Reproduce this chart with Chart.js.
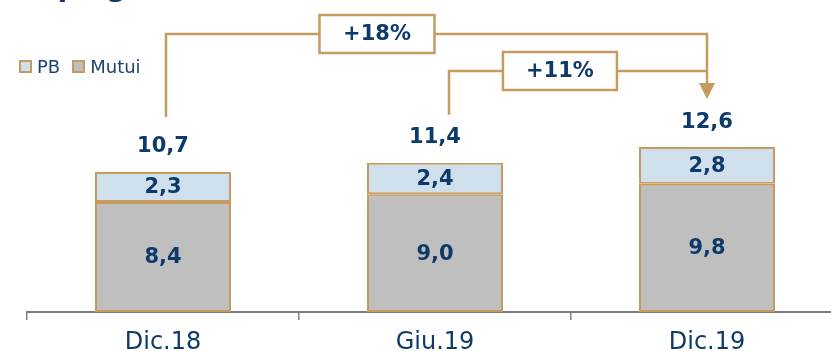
<!DOCTYPE html>
<html>
<head>
<meta charset="utf-8">
<script src="https://cdn.jsdelivr.net/npm/chart.js@4"></script>
<style>
  html, body { margin: 0; padding: 0; background: #fff; overflow: hidden; }
  #wrap { position: relative; width: 831px; height: 351px; overflow: hidden; }
  #chart_box { position: absolute; left: 0; top: 0; width: 843px; height: 370px; }
  #title {
    position: absolute; left: 18px; top: -30px; white-space: nowrap;
    font: bold 28px "DejaVu Sans", sans-serif; color: #0E3A6B;
  }
  #legend {
    position: absolute; left: 19px; top: 56px; display: flex; align-items: center;
    font: 18px "DejaVu Sans", sans-serif; color: #1A4273;
  }
  #legend .item { display: flex; align-items: center; margin-right: 12px; }
  #legend .box { width: 9px; height: 9px; border: 2px solid #C59B5F; margin-right: 5px; }
</style>
</head>
<body>
<div id="wrap">
  <div id="title">Impieghi (€ mld)</div>
  <div id="chart_box"><canvas id="impieghi"></canvas></div>
  <div id="legend"></div>
</div>
<script>
var periods = ['Dic.18', 'Giu.19', 'Dic.19'];
var mutui = [8.4, 9.0, 9.8];
var pb = [2.3, 2.4, 2.8];

var gold = '#C59B5F';
var navy = '#0E3A6B';
var value_font = 'bold 21px "DejaVu Sans", sans-serif';

var totals = periods.map((p, i) => Math.round((mutui[i] + pb[i]) * 10) / 10);

function fmt(v)
{
    return v.toFixed(1).replace('.', ',');
}

function growth(from, to)
{
    return '+' + Math.round((totals[to] / totals[from] - 1) * 100) + '%';
}

// segment values in the middle of each block, totals above the stack
var value_labels = {
    id: 'value_labels',
    afterDatasetsDraw(chart)
    {
        var ctx = chart.ctx;
        ctx.save();
        ctx.font = value_font;
        ctx.fillStyle = navy;
        ctx.textAlign = 'center';
        ctx.textBaseline = 'middle';
        chart.data.datasets.forEach((ds, d) => {
            chart.getDatasetMeta(d).data.forEach((bar, i) => {
                ctx.fillText(fmt(ds.data[i]), bar.x, (bar.y + bar.base) / 2 + 1);
            });
        });
        var top = chart.getDatasetMeta(chart.data.datasets.length - 1).data;
        top.forEach((bar, i) => {
            ctx.fillText(fmt(totals[i]), bar.x, bar.y - 25);
        });
        ctx.restore();
    }
};

function growth_box(ctx, cx, cy, w, h, text)
{
    ctx.fillStyle = '#fff';
    ctx.fillRect(cx - w / 2, cy - h / 2, w, h);
    ctx.strokeRect(cx - w / 2, cy - h / 2, w, h);
    ctx.fillStyle = navy;
    ctx.fillText(text, cx, cy + 1);
}

// bracket connectors with the growth rates
var growth_arrows = {
    id: 'growth_arrows',
    afterDraw(chart)
    {
        var ctx = chart.ctx;
        var x = chart.scales.x;
        var y = chart.scales.y;
        var x0 = x.getPixelForValue(0) + 3;
        var x1 = x.getPixelForValue(1) + 14;
        var x2 = x.getPixelForValue(2);
        var y_long = 34;
        var y_short = 71;
        var tip = y.getPixelForValue(totals[2]) - 48;

        ctx.save();
        ctx.strokeStyle = gold;
        ctx.lineWidth = 2.5;
        ctx.lineJoin = 'miter';

        ctx.beginPath();
        ctx.moveTo(x0, y.getPixelForValue(totals[0]) - 55);
        ctx.lineTo(x0, y_long);
        ctx.lineTo(x2, y_long);
        ctx.lineTo(x2, tip - 14);
        ctx.stroke();

        ctx.beginPath();
        ctx.moveTo(x1, y.getPixelForValue(totals[1]) - 48);
        ctx.lineTo(x1, y_short);
        ctx.lineTo(x2, y_short);
        ctx.stroke();

        ctx.fillStyle = gold;
        ctx.beginPath();
        ctx.moveTo(x2 - 8, tip - 16);
        ctx.lineTo(x2 + 8, tip - 16);
        ctx.lineTo(x2, tip);
        ctx.closePath();
        ctx.fill();

        ctx.font = value_font;
        ctx.textAlign = 'center';
        ctx.textBaseline = 'middle';
        growth_box(ctx, x0 + (x2 - x0) * 0.39, y_long, 115, 38, growth(0, 2));
        growth_box(ctx, x1 + (x2 - x1) * 0.43, y_short, 114, 38, growth(1, 2));
        ctx.restore();
    }
};

var chart_config = {
    type: 'bar',
    data: {
        labels: periods,
        datasets: [
            { label: 'Mutui', data: mutui, backgroundColor: '#BFBFBF' },
            { label: 'PB', data: pb, backgroundColor: '#CFE0EC' }
        ]
    },
    options: {
        responsive: true,
        maintainAspectRatio: false,
        animation: false,
        layout: { padding: { left: 27, top: 24, right: 0, bottom: 0 } },
        datasets: {
            bar: {
                borderColor: gold,
                borderWidth: 2,
                borderSkipped: false,
                categoryPercentage: 1,
                barPercentage: 0.5
            }
        },
        plugins: {
            legend: { display: false },
            tooltip: { enabled: false }
        },
        scales: {
            x: {
                stacked: true,
                grid: {
                    display: true,
                    drawOnChartArea: false,
                    drawTicks: true,
                    tickLength: 8,
                    color: '#808080',
                    lineWidth: 1.5,
                    offset: true
                },
                border: { display: true, color: '#7A7A7A', width: 2 },
                ticks: {
                    color: navy,
                    padding: 8,
                    font: { family: '"DejaVu Sans", sans-serif', size: 24 }
                },
                afterFit(scale) { scale.height = 58; }
            },
            y: {
                stacked: true,
                display: false,
                min: 0,
                max: 22
            }
        }
    },
    plugins: [value_labels, growth_arrows]
};

function build_legend(chart)
{
    var legend = document.getElementById('legend');
    chart.data.datasets.slice().reverse().forEach(ds => {
        var item = document.createElement('div');
        item.className = 'item';
        var box = document.createElement('span');
        box.className = 'box';
        box.style.background = ds.backgroundColor;
        item.appendChild(box);
        item.appendChild(document.createTextNode(ds.label));
        legend.appendChild(item);
    });
}

window.addEventListener('load', function()
{
    var chart = new Chart(document.getElementById('impieghi'), chart_config);
    build_legend(chart);
});
</script>
</body>
</html>
